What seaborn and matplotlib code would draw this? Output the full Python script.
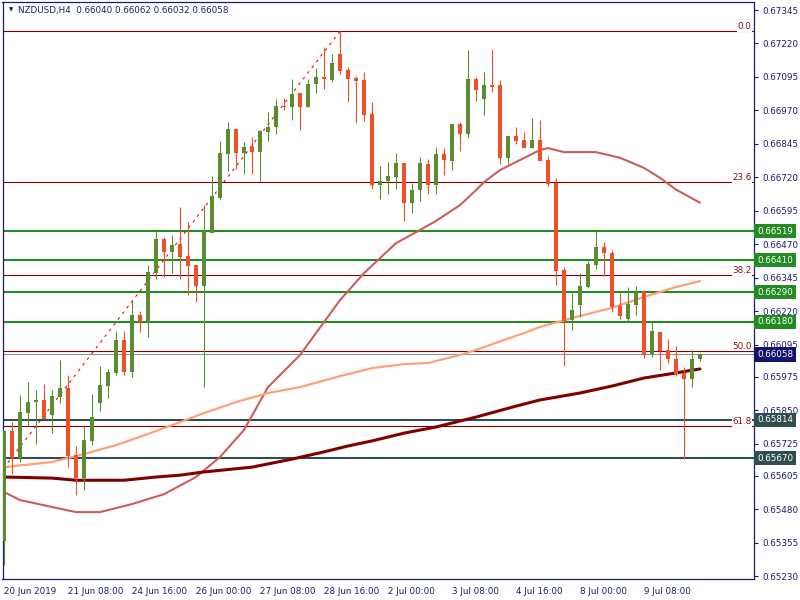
'''
    NZDUSD H4 candles with moving averages, fibo levels and S/R lines
'''

# --
# Dependancies

import matplotlib
matplotlib.use('Agg')
import matplotlib.pyplot as plt
import matplotlib.transforms as mtransforms
import seaborn as sns
import pandas as pd
import numpy as np

# --
# Data (bar 0 = 20 Jun 2019 00:00)

opens = [0.65361, 0.65772, 0.65671, 0.65839, 0.65880, 0.65888, 0.65832, 0.65899, 0.65933, 0.65682,
         0.65596, 0.65735, 0.65877, 0.65940, 0.65989, 0.66112, 0.65992, 0.66205, 0.66179, 0.66362,
         0.66489, 0.66441, 0.66471, 0.66426, 0.66392, 0.66314, 0.66512, 0.66643, 0.66807, 0.66900,
         0.66811, 0.66833, 0.66814, 0.66889, 0.66908, 0.66986, 0.66983, 0.67035, 0.66983, 0.67069,
         0.67095, 0.67083, 0.67181, 0.67121, 0.67091, 0.67083, 0.66956, 0.66691, 0.66706, 0.66721,
         0.66773, 0.66624, 0.66672, 0.66770, 0.66691, 0.66807, 0.66781, 0.66919, 0.66882, 0.67087,
         0.67012, 0.67065, 0.67065, 0.66792, 0.66874, 0.66859, 0.66829, 0.66859, 0.66785, 0.66699,
         0.66374, 0.66187, 0.66243, 0.66310, 0.66392, 0.66459, 0.66437, 0.66239, 0.66190, 0.66243,
         0.66291, 0.66060, 0.66142, 0.66075, 0.66041, 0.65989, 0.65966, 0.66040]
highs = [0.65772, 0.65806, 0.65906, 0.65955, 0.65925, 0.65948, 0.65925, 0.66037, 0.65981, 0.65716,
         0.65794, 0.65910, 0.66015, 0.66004, 0.66146, 0.66146, 0.66258, 0.66220, 0.66392, 0.66527,
         0.66497, 0.66504, 0.66609, 0.66553, 0.66392, 0.66616, 0.66725, 0.66856, 0.66927, 0.66900,
         0.66852, 0.66871, 0.66897, 0.66964, 0.67012, 0.67016, 0.67087, 0.67035, 0.67087, 0.67128,
         0.67207, 0.67181, 0.67267, 0.67132, 0.67098, 0.67113, 0.67001, 0.66762, 0.66777, 0.66811,
         0.66773, 0.66699, 0.66796, 0.66788, 0.66833, 0.66829, 0.66919, 0.66927, 0.67196, 0.67095,
         0.67113, 0.67199, 0.67083, 0.66874, 0.66908, 0.66889, 0.66941, 0.66934, 0.66800, 0.66717,
         0.66385, 0.66288, 0.66362, 0.66407, 0.66527, 0.66478, 0.66448, 0.66288, 0.66310, 0.66314,
         0.66299, 0.66179, 0.66142, 0.66116, 0.66090, 0.66011, 0.66075, 0.66062]
lows = [0.65271, 0.65611, 0.65656, 0.65791, 0.65723, 0.65817, 0.65764, 0.65877, 0.65637, 0.65533,
        0.65551, 0.65720, 0.65847, 0.65895, 0.65981, 0.65981, 0.65974, 0.66142, 0.66123, 0.66340,
        0.66347, 0.66362, 0.66340, 0.66280, 0.66254, 0.65936, 0.66512, 0.66639, 0.66743, 0.66751,
        0.66732, 0.66732, 0.66706, 0.66856, 0.66882, 0.66971, 0.66934, 0.66897, 0.66983, 0.67035,
        0.67050, 0.67076, 0.67106, 0.67001, 0.66923, 0.66930, 0.66676, 0.66639, 0.66657, 0.66676,
        0.66557, 0.66587, 0.66631, 0.66657, 0.66657, 0.66728, 0.66747, 0.66818, 0.66867, 0.67005,
        0.66953, 0.67039, 0.66770, 0.66770, 0.66844, 0.66829, 0.66829, 0.66781, 0.66687, 0.66318,
        0.66015, 0.66149, 0.66198, 0.66306, 0.66377, 0.66351, 0.66217, 0.66190, 0.66179, 0.66205,
        0.66045, 0.66048, 0.66000, 0.66026, 0.65977, 0.65667, 0.65936, 0.66032]
closes = [0.65772, 0.65671, 0.65843, 0.65880, 0.65888, 0.65817, 0.65903, 0.65933, 0.65678, 0.65596,
          0.65738, 0.65824, 0.65944, 0.65992, 0.66112, 0.65992, 0.66205, 0.66179, 0.66366, 0.66489,
          0.66441, 0.66467, 0.66422, 0.66388, 0.66314, 0.66519, 0.66650, 0.66811, 0.66900, 0.66811,
          0.66833, 0.66814, 0.66893, 0.66908, 0.66986, 0.66983, 0.67031, 0.66983, 0.67069, 0.67095,
          0.67087, 0.67147, 0.67117, 0.67087, 0.67080, 0.66953, 0.66691, 0.66706, 0.66725, 0.66773,
          0.66624, 0.66672, 0.66773, 0.66691, 0.66807, 0.66785, 0.66919, 0.66882, 0.67087, 0.67046,
          0.67065, 0.67057, 0.66792, 0.66874, 0.66856, 0.66829, 0.66859, 0.66781, 0.66695, 0.66370,
          0.66183, 0.66224, 0.66314, 0.66396, 0.66459, 0.66437, 0.66235, 0.66202, 0.66246, 0.66291,
          0.66056, 0.66146, 0.66071, 0.66041, 0.65985, 0.65966, 0.66041, 0.66058]

# moving averages, read at a few bars
ma_red_bars = [0, 2, 6, 9, 12, 16, 20, 24, 27, 30, 33, 37, 40, 42, 45, 47, 49, 52, 54, 57,
               59, 60, 62, 64, 67, 68, 70, 74, 77, 80, 82, 84, 87]
ma_red_vals = [0.65544, 0.65514, 0.65488, 0.65469, 0.65469, 0.65499, 0.65536, 0.65600, 0.65675, 0.65776,
               0.65936, 0.66056, 0.66179, 0.66261, 0.66362, 0.66418, 0.66474, 0.66523, 0.66557, 0.66616,
               0.66672, 0.66702, 0.66747, 0.66777, 0.66822, 0.66829, 0.66814, 0.66814, 0.66793, 0.66755,
               0.66718, 0.66674, 0.66625]
ma_salmon_bars = [0, 6, 10, 14, 18, 21, 25, 29, 33, 37, 42, 46, 50, 53, 57, 59, 65, 67, 72, 76, 80, 84, 87]
ma_salmon_vals = [0.65637, 0.65656, 0.65686, 0.65719, 0.65761, 0.65794, 0.65839, 0.65880, 0.65914, 0.65936,
                  0.65977, 0.66007, 0.66022, 0.66026, 0.66056, 0.66075, 0.66138, 0.66161, 0.66202, 0.66232,
                  0.66273, 0.66310, 0.66332]
ma_maroon_bars = [0, 6, 9, 15, 19, 22, 25, 31, 36, 40, 43, 46, 50, 54, 59, 64, 67, 72, 76, 80, 84, 87]
ma_maroon_vals = [0.65600, 0.65596, 0.65588, 0.65588, 0.65600, 0.65607, 0.65619, 0.65637, 0.65667, 0.65694,
                  0.65716, 0.65735, 0.65764, 0.65787, 0.65824, 0.65865, 0.65888, 0.65914, 0.65940, 0.65970,
                  0.65989, 0.66004]

# fibonacci retracement
fib_labels = ['0.0', '23.6', '38.2', '50.0', '61.8']
fib_prices = [0.67266, 0.66702, 0.66354, 0.66072, 0.65790]
fib_anchor_bars = [-19.5, 42]
fib_anchor_prices = [0.64878, 0.67266]

# horizontal levels
green_levels = [0.66519, 0.66410, 0.66290, 0.66180]
slate_levels = [0.65814, 0.65670]
bid_price = 0.66058

# axes
ytick_vals = [0.67345, 0.67220, 0.67095, 0.66970, 0.66845, 0.66720, 0.66595, 0.66470, 0.66345,
              0.66220, 0.66095, 0.65975, 0.65850, 0.65725, 0.65605, 0.65480, 0.65355, 0.65230]
xtick_bars = [0, 8, 16, 24, 32, 40, 48, 56, 64, 72, 80]
xtick_labels = ['20 Jun 2019', '21 Jun 08:00', '24 Jun 16:00', '26 Jun 00:00', '27 Jun 08:00',
                '28 Jun 16:00', '2 Jul 00:00', '3 Jul 08:00', '4 Jul 16:00', '8 Jul 00:00', '9 Jul 08:00']

# --
# Style

sns.set_style('white')
plt.rcParams['font.family'] = ['DejaVu Sans']

navy = '#1c1c70'
bull = '#5a8c30'
bear = '#f04f28'
fs = 6.3

fig = plt.figure(figsize=(8, 6), dpi=100)
ax = fig.add_axes([2.5 / 800, 21 / 600, 751.5 / 800, 577 / 600])

# --
# Candles

df = pd.DataFrame({'open': opens, 'high': highs, 'low': lows, 'close': closes})
df['bar'] = np.arange(len(df))
df['color'] = np.where(df.close >= df.open, bull, bear)
body_lo = np.minimum(df.open, df.close)
body_h = np.maximum((df.close - df.open).abs(), 0.00003)

ax.vlines(df.bar, df.low, df.high, colors=df.color, lw=0.8, zorder=5)
ax.bar(df.bar, body_h, bottom=body_lo, width=0.62, color=df.color, lw=0, zorder=6)

# --
# Moving averages

sns.lineplot(x=ma_red_bars, y=ma_red_vals, color='#cd5c5c', lw=1.5, ax=ax, zorder=3)
sns.lineplot(x=ma_salmon_bars, y=ma_salmon_vals, color='#ffa07a', lw=1.6, ax=ax, zorder=3)
sns.lineplot(x=ma_maroon_bars, y=ma_maroon_vals, color='#800000', lw=2.2, ax=ax, zorder=3)

# --
# Levels

for p in fib_prices:
    ax.axhline(p, color='#800000', lw=0.8, zorder=2)
for p in green_levels:
    ax.axhline(p, color='#228b22', lw=1.5, zorder=2)
for p in slate_levels:
    ax.axhline(p, color='#2f4f4f', lw=1.5, zorder=2)
ax.axhline(bid_price, color='#8a93a0', lw=0.8, zorder=2)

ax.plot(fib_anchor_bars, fib_anchor_prices, color='#ff0000', lw=0.8,
        linestyle=(0, (2.5, 4)), zorder=4)

trans = mtransforms.blended_transform_factory(ax.transAxes, ax.transData)
for lab, p in zip(fib_labels, fib_prices):
    ax.text(0.997, p, lab, transform=trans, ha='right', va='bottom', fontsize=fs,
            color='#8b1010', zorder=7,
            bbox=dict(boxstyle='square,pad=0.05', fc='white', ec='none'))

def price_box(p, fc):
    ax.text(1.004, p, f'{p:.5f}', transform=trans, ha='left', va='center', fontsize=fs,
            color='white', zorder=10, clip_on=False,
            bbox=dict(boxstyle='square,pad=0.3', fc=fc, ec='none'))

for p in green_levels:
    price_box(p, '#228b22')
for p in slate_levels:
    price_box(p, '#2f4f4f')
price_box(bid_price, '#14146e')

# --
# Axes

ax.set_xlim(-0.19, 93.75)
ax.set_ylim(0.65219, 0.67375)

ax.yaxis.tick_right()
ax.set_yticks(ytick_vals)
ax.set_yticklabels([f'{v:.5f}' for v in ytick_vals])
ax.set_xticks(xtick_bars)
ax.set_xticklabels(xtick_labels, ha='left')
ax.tick_params(axis='both', which='both', labelsize=fs, colors=navy, length=3, width=0.8,
               direction='out', pad=2)
ax.tick_params(axis='x', pad=3)
ax.tick_params(axis='y', pad=3)
ax.set_xlabel('')
ax.set_ylabel('')
ax.grid(False)
for s in ax.spines.values():
    s.set_color(navy)
    s.set_linewidth(0.9)
    s.set_visible(True)

# header
last = df.iloc[-1]
ax.text(0.0085, 0.987, '\u25bc', transform=ax.transAxes, fontsize=4, color=navy,
        ha='left', va='center')
ax.text(0.021, 0.986,
        f'NZDUSD,H4  {last.open:.5f} {last.high:.5f} {last.low:.5f} {last.close:.5f}',
        transform=ax.transAxes, fontsize=fs, color=navy, ha='left', va='center')

fig.savefig('out.png', dpi=100, facecolor='white')
